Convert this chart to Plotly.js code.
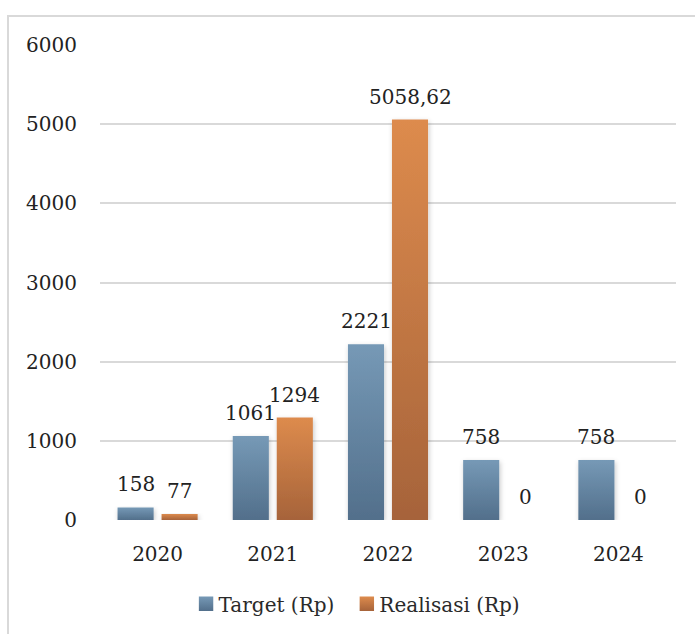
<!DOCTYPE html>
<html>
<head>
<meta charset="utf-8">
<script src="https://cdn.plot.ly/plotly-3.0.1.min.js"></script>
<style>
  html, body { margin: 0; padding: 0; background: #fff; overflow: hidden; }
  #wrap { position: relative; width: 695px; height: 634px; overflow: hidden; }
  #chart { position: absolute; left: 0; top: 0; width: 695px; height: 634px; }
  #frame { position: absolute; left: 7px; top: 15px; width: 700px; height: 640px;
           border-left: 2px solid #d9d9d9; border-top: 2px solid #d9d9d9; pointer-events: none; }
</style>
</head>
<body>
<div id="wrap">
  <div id="chart"></div>
  <div id="frame"></div>
</div>
<script>
// Budget target vs realisation per year
const years = ['2020', '2021', '2022', '2023', '2024'];
const target = [158, 1061, 2221, 758, 758];
const realisasi = [77, 1294, 5058.62, 0, 0];
const targetLabels = ['158', '1061', '2221', '758', '758'];
const realisasiLabels = ['77', '1294', '5058,62', '0', '0'];
const yTickVals = [0, 1000, 2000, 3000, 4000, 5000, 6000];
const seriesNames = ['Target (Rp)', 'Realisasi (Rp)'];

const FONT = 'DejaVu Serif, serif';
const TEXT = '#222222';
const pos = years.map((_, i) => i);

const traces = [
  { type: 'bar', name: seriesNames[0], x: pos, y: target,
    marker: { color: '#6688a6', line: { width: 0 } }, hoverinfo: 'y' },
  { type: 'bar', name: seriesNames[1], x: pos, y: realisasi,
    marker: { color: '#c67a44', line: { width: 0 } }, hoverinfo: 'y' }
];

const annotations = [];
years.forEach((yr, i) => {
  annotations.push({ x: pos[i], y: target[i], xref: 'x', yref: 'y', text: targetLabels[i],
    showarrow: false, xshift: -22, yshift: 9, yanchor: 'bottom',
    font: { family: FONT, size: 20, color: TEXT } });
  annotations.push({ x: pos[i], y: realisasi[i], xref: 'x', yref: 'y', text: realisasiLabels[i],
    showarrow: false, xshift: 22, yshift: 9, yanchor: 'bottom',
    font: { family: FONT, size: 20, color: TEXT } });
});

const layout = {
  width: 695, height: 634,
  margin: { l: 100, r: 19, t: 45, b: 113 },
  paper_bgcolor: 'rgba(0,0,0,0)', plot_bgcolor: 'rgba(0,0,0,0)',
  barmode: 'group', bargap: 0.236, bargroupgap: 0.18,
  font: { family: FONT, size: 20, color: TEXT },
  xaxis: { range: [-0.5, years.length - 0.5], tickvals: pos, ticktext: years,
           showgrid: false, zeroline: false, showline: false, fixedrange: true,
           ticks: 'outside', ticklen: 16, tickcolor: 'rgba(0,0,0,0)',
           tickfont: { family: FONT, size: 20, color: TEXT } },
  yaxis: { range: [0, 6000], tickvals: yTickVals, ticktext: yTickVals.map(String),
           showgrid: true, gridcolor: '#d9d9d9', gridwidth: 2, zeroline: false, showline: false,
           fixedrange: true, ticks: 'outside', ticklen: 18, tickcolor: 'rgba(0,0,0,0)',
           tickfont: { family: FONT, size: 20, color: TEXT } },
  showlegend: true,
  legend: { orientation: 'h', x: 0.4376, xanchor: 'center', y: -0.174, yanchor: 'middle',
            font: { family: FONT, size: 20, color: '#2a2a2a' }, itemclick: false, itemdoubleclick: false },
  annotations: annotations
};

Plotly.newPlot('chart', traces, layout, { displayModeBar: false }).then(gd => {
  // vertical gradient fills and a soft drop shadow on every bar
  const svg = gd.querySelector('svg.main-svg');
  const ns = 'http://www.w3.org/2000/svg';
  const defs = document.createElementNS(ns, 'defs');
  defs.innerHTML =
    '<linearGradient id="gTarget" x1="0" y1="0" x2="0" y2="1">' +
      '<stop offset="0" stop-color="#7699b6"/><stop offset="1" stop-color="#526f8b"/></linearGradient>' +
    '<linearGradient id="gReal" x1="0" y1="0" x2="0" y2="1">' +
      '<stop offset="0" stop-color="#dd8b4d"/><stop offset="1" stop-color="#a6633a"/></linearGradient>' +
    '<filter id="shadow" x="-30%" y="-10%" width="160%" height="130%">' +
      '<feDropShadow dx="1" dy="2" stdDeviation="2.5" flood-color="#000" flood-opacity="0.22"/></filter>';
  svg.insertBefore(defs, svg.firstChild);
  const fills = ['url(#gTarget)', 'url(#gReal)'];
  gd.querySelectorAll('.barlayer .trace').forEach((tr, i) => {
    tr.querySelectorAll('path').forEach(p => {
      p.style.fill = fills[i];
      p.setAttribute('filter', 'url(#shadow)');
    });
  });
  // slightly larger legend swatches, placed closer to their labels
  gd.querySelectorAll('.legend .traces').forEach((tr, i) => {
    tr.querySelectorAll('.legendpoints path').forEach(p => {
      p.style.fill = fills[i];
      p.style.stroke = 'none';
      p.setAttribute('transform', 'translate(27.5,0) scale(1.2)');
    });
  });
});
</script>
</body>
</html>
